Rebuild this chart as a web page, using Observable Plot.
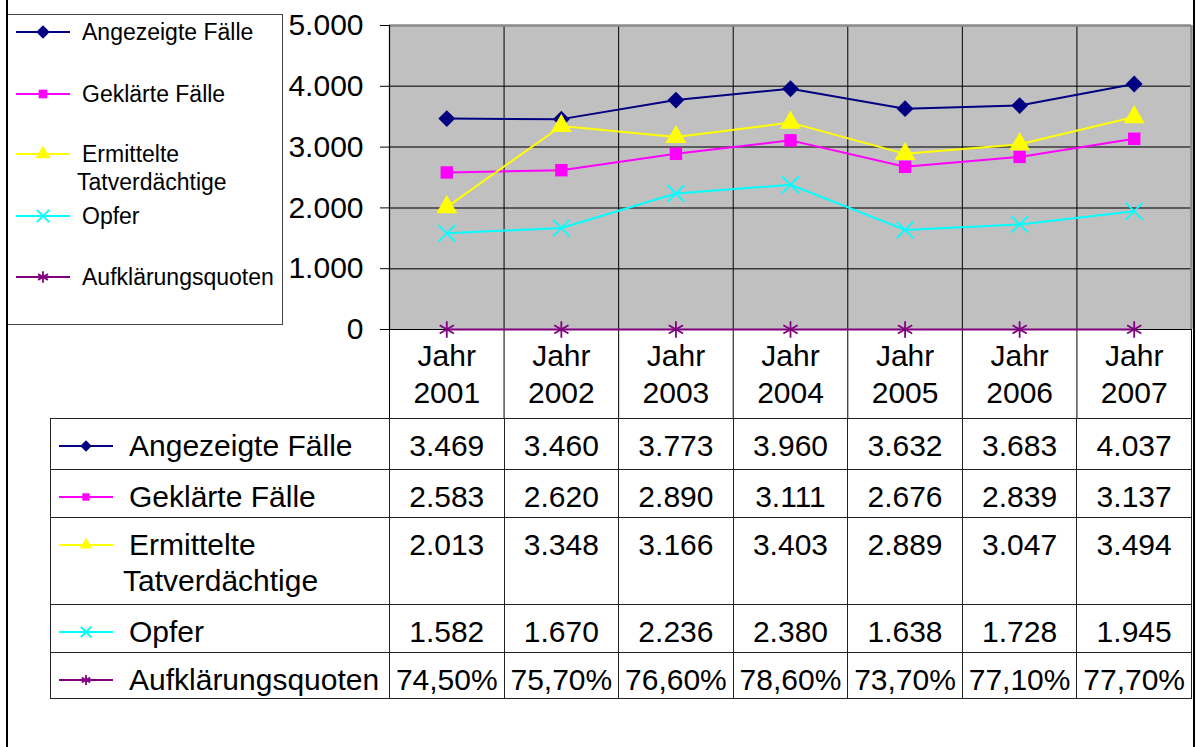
<!DOCTYPE html>
<html>
<head>
<meta charset="utf-8">
<script src="https://cdn.jsdelivr.net/npm/d3@7"></script>
<script src="https://cdn.jsdelivr.net/npm/@observablehq/plot@0.6"></script>
<style>
  html, body { margin: 0; padding: 0; background: #fff; }
  #root { position: relative; width: 1196px; height: 747px; overflow: hidden; font-family: "Liberation Sans", Arial, sans-serif; color: #000; }
  #chart { position: absolute; left: 0; top: 0; }
  .frameL, .frameR { position: absolute; top: 0; width: 2px; height: 747px; background: #000; }
  .frameL { left: 6px; }
  .frameR { left: 1193px; }
  #legend { position: absolute; left: 7px; top: 14px; width: 276px; height: 311px; border: 1px solid #444; background: #fff; box-sizing: border-box; font-size: 23px; }
  #legend .item { position: absolute; left: 0; white-space: nowrap; line-height: 28px; }
  #legend svg { position: absolute; left: 8px; top: 6px; }
  #legend .txt { position: absolute; left: 74px; top: 0; }
  #legend .txt2 { position: absolute; left: 69px; top: 28px; }
  #tbl { position: absolute; left: 50px; top: 418px; border-collapse: collapse; table-layout: fixed; font-size: 30px; }
  #tbl td { border: 1px solid #222; padding: 0; vertical-align: top; line-height: 36px; box-sizing: border-box; }
  #tbl td.val { text-align: center; padding-top: 9px; white-space: nowrap; }
  #tbl td.lab { position: relative; padding-left: 72px; padding-top: 9px; text-indent: 6px; }
  #tbl td.lab svg { position: absolute; left: 8px; }
</style>
</head>
<body>
<div id="root">
  <div id="chart"></div>
  <div id="legend"></div>
  <table id="tbl"></table>
  <div class="frameL"></div>
  <div class="frameR"></div>
</div>
<script>
// ---- data ----
const years = [2001, 2002, 2003, 2004, 2005, 2006, 2007];
const seriesNames = ["Angezeigte Fälle", "Geklärte Fälle", "Ermittelte Tatverdächtige", "Opfer", "Aufklärungsquoten"];
const angezeigte = [3469, 3460, 3773, 3960, 3632, 3683, 4037];
const geklaerte = [2583, 2620, 2890, 3111, 2676, 2839, 3137];
const ermittelte = [2013, 3348, 3166, 3403, 2889, 3047, 3494];
const opfer = [1582, 1670, 2236, 2380, 1638, 1728, 1945];
const quoten = [0.745, 0.757, 0.766, 0.786, 0.737, 0.771, 0.777];
const yTicks = [0, 1000, 2000, 3000, 4000, 5000];

// ---- styles ----
const seriesValues = [angezeigte, geklaerte, ermittelte, opfer, quoten];
const colors = ["#000080", "#FF00FF", "#FFFF00", "#00FFFF", "#800080"];
const symbols = ["diamond2", "square", "triangle", "times", "asterisk"];
const d3symbols = [d3.symbolDiamond2, d3.symbolSquare, d3.symbolTriangle, d3.symbolTimes, d3.symbolAsterisk];
const filled = [true, true, true, false, false];
const radii = [7.6, 7.0, 7.8, 7.6, 7.8];
const swatchScale = [0.8, 0.7, 0.7, 0.75, 0.7];

const de = d3.formatLocale({decimal: ",", thousands: ".", grouping: [3], currency: ["", " €"]});
const fmtNum = de.format(",d");
const fmtPct = de.format(".2%");

const rows = seriesNames.flatMap((name, si) =>
  seriesValues[si].map((v, i) => ({series: si, name, x: i + 0.5, y: v})));

const W = 1196, H = 418;
const marks = [
  Plot.frame({fill: "#C0C0C0", stroke: null}),
  Plot.ruleY(yTicks.filter(t => t > 0 && t < 5000), {stroke: "#3a3a3a", strokeWidth: 1.5}),
  Plot.ruleX(d3.range(1, years.length), {stroke: "#000", strokeWidth: 1}),
  Plot.ruleY([5000], {stroke: "#8a8a8a", strokeWidth: 2.5}),
  Plot.ruleX([years.length], {stroke: "#8a8a8a", strokeWidth: 2.5}),
  Plot.axisX({ticks: d3.range(years.length + 1), tickSize: 89, tickFormat: () => "", stroke: "#000", label: null}),
  Plot.axisY({ticks: yTicks, tickSize: 9, tickPadding: 17, fontSize: 30, tickFormat: fmtNum, stroke: "#000", label: null}),
  Plot.ruleX([0], {stroke: "#000", strokeWidth: 1.2}),
  Plot.ruleY([0], {stroke: "#000", strokeWidth: 1.2}),
  Plot.text(years, {x: (d, i) => i + 0.5, frameAnchor: "bottom", dy: 10, lineAnchor: "top", lineHeight: 1.233, fontSize: 30, fill: "#000", text: d => "Jahr\n" + d})
];
seriesNames.forEach((name, si) => {
  const data = rows.filter(r => r.series === si);
  marks.push(Plot.line(data, {x: "x", y: "y", stroke: colors[si], strokeWidth: 2}));
});
seriesNames.forEach((name, si) => {
  const data = rows.filter(r => r.series === si);
  marks.push(Plot.dot(data, filled[si]
    ? {x: "x", y: "y", symbol: () => symbols[si], r: radii[si], fill: colors[si], stroke: "none"}
    : {x: "x", y: "y", symbol: () => symbols[si], r: radii[si], stroke: colors[si], strokeWidth: 1.8, fill: "none"}));
});

const chart = Plot.plot({
  width: W, height: H,
  marginLeft: 389, marginRight: 5, marginTop: 25, marginBottom: 89,
  x: {domain: [0, years.length], axis: null},
  y: {domain: [0, 5000], axis: null},
  symbol: {type: "identity"},
  style: {fontFamily: "'Liberation Sans', Arial, sans-serif", fontSize: "30px", background: "#fff", color: "#000", overflow: "visible"},
  marks
});
document.getElementById("chart").appendChild(chart);

// ---- swatch helper ----
function swatch(si, w, k) {
  const h = 16, ns = "http://www.w3.org/2000/svg";
  const svg = document.createElementNS(ns, "svg");
  svg.setAttribute("width", w); svg.setAttribute("height", h);
  const line = document.createElementNS(ns, "line");
  line.setAttribute("x1", 0); line.setAttribute("x2", w);
  line.setAttribute("y1", h / 2); line.setAttribute("y2", h / 2);
  line.setAttribute("stroke", colors[si]); line.setAttribute("stroke-width", 2);
  svg.appendChild(line);
  const p = document.createElementNS(ns, "path");
  const rr = radii[si] * swatchScale[si] * k;
  p.setAttribute("d", d3.symbol(d3symbols[si], Math.PI * rr * rr)());
  p.setAttribute("transform", `translate(${w / 2},${h / 2})`);
  if (filled[si]) { p.setAttribute("fill", colors[si]); }
  else { p.setAttribute("fill", "none"); p.setAttribute("stroke", colors[si]); p.setAttribute("stroke-width", 1.8); }
  svg.appendChild(p);
  return svg;
}

// ---- legend ----
const legend = document.getElementById("legend");
const legendTops = [3, 65, 125, 187, 248];
seriesNames.forEach((name, si) => {
  const item = document.createElement("div");
  item.className = "item";
  item.style.top = legendTops[si] + "px";
  item.appendChild(swatch(si, 54, 1));
  const parts = name === "Ermittelte Tatverdächtige" ? ["Ermittelte", "Tatverdächtige"] : [name];
  const t1 = document.createElement("div"); t1.className = "txt"; t1.textContent = parts[0]; item.appendChild(t1);
  if (parts[1]) { const t2 = document.createElement("div"); t2.className = "txt2"; t2.textContent = parts[1]; item.appendChild(t2); }
  legend.appendChild(item);
});

// ---- data table ----
const tbl = document.getElementById("tbl");
const colW = (1191 - 389) / years.length;
const cg = document.createElement("colgroup");
const c0 = document.createElement("col"); c0.style.width = (389 - 50) + "px"; cg.appendChild(c0);
years.forEach(() => { const c = document.createElement("col"); c.style.width = colW + "px"; cg.appendChild(c); });
tbl.appendChild(cg);
tbl.style.width = (1191 - 50) + "px";
const rowHeights = [51, 48, 87, 48, 45];
seriesNames.forEach((name, si) => {
  const tr = document.createElement("tr");
  tr.style.height = rowHeights[si] + "px";
  const lab = document.createElement("td");
  lab.className = "lab";
  const sw = swatch(si, 54, 0.85);
  sw.style.top = (9 + 18 - 8) + "px";
  lab.appendChild(sw);
  lab.appendChild(document.createTextNode(name));
  tr.appendChild(lab);
  seriesValues[si].forEach(v => {
    const td = document.createElement("td");
    td.className = "val";
    td.textContent = si === 4 ? fmtPct(v) : fmtNum(v);
    tr.appendChild(td);
  });
  tbl.appendChild(tr);
});
</script>
</body>
</html>
